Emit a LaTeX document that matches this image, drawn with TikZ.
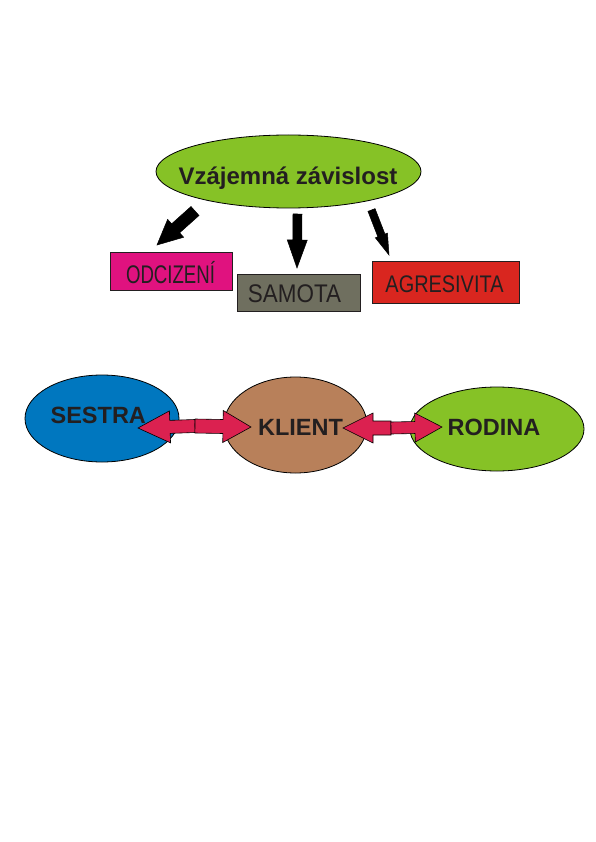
\documentclass[tikz,border=0pt]{standalone}
\usepackage{fontspec}
\setmainfont{Liberation Sans}
\usepackage{graphicx}
\usetikzlibrary{calc}
\definecolor{cgreen}{HTML}{86C226}
\definecolor{cblue}{HTML}{0077BF}
\definecolor{cbrown}{HTML}{B8805A}
\definecolor{cmag}{HTML}{E0127F}
\definecolor{cgray}{HTML}{6F6F5F}
\definecolor{cred}{HTML}{D9261F}
\definecolor{ccrim}{HTML}{DB2150}
\definecolor{ctext}{HTML}{231F20}
\tikzset{
  ell/.style={ellipse, draw=black, line width=0.8pt, inner sep=0pt},
  box/.style={rectangle, draw=ctext, line width=0.8pt, inner sep=0pt},
  boldlab/.style={anchor=base, inner sep=0pt, text=ctext, font=\fontsize{23.5}{23.5}\selectfont\bfseries},
  lab/.style={anchor=base, inner sep=0pt, text=ctext},
  blackarrow/.style={fill=black, draw=black, line width=0.5pt, line join=miter},
  crimarrow/.style={fill=ccrim, draw=black, line width=0.6pt, line join=miter},
}
\usetikzlibrary{shapes.geometric}
% #1 style, #2 tail, #3 tip, #4 shaft half width, #5 head half width, #6 head length
\newcommand\fatarr[6]{%
  \coordinate (hb) at ($(#3)!#6!(#2)$);
  \draw[#1] ($(#2)!#4!90:(#3)$) -- ($(hb)!#4!-90:(#2)$) -- ($(hb)!#5!-90:(#2)$)
    -- (#3) -- ($(hb)!#5!90:(#2)$) -- ($(hb)!#4!90:(#2)$) -- ($(#2)!#4!-90:(#3)$) -- cycle;
}
\begin{document}
\begin{tikzpicture}[x=1pt,y=-1pt]
\useasboundingbox (0,0) rectangle (596,842);
\fill[white] (0,0) rectangle (596,842);

% top ellipse
\node[ell, fill=cgreen, minimum width=265pt, minimum height=73pt] (vz) at (288.5,171.5) {};
\node[lab, font=\fontsize{24}{24}\selectfont\bfseries] (vzt) at (288,185) {Vzájemná závislost};

% boxes
\node[box, fill=cmag, minimum width=122pt, minimum height=38pt] (odc) at (171,271) {};
\node[lab] (odct) at (170.5,283) {\scalebox{0.73}[1]{\fontsize{25.5}{25.5}\selectfont ODCIZENÍ}};
\node[box, fill=cgray, minimum width=123pt, minimum height=37pt] (sam) at (298.5,292.5) {};
\node[lab] (samt) at (294.5,302) {\scalebox{0.88}[1]{\fontsize{25.5}{25.5}\selectfont SAMOTA}};
\node[box, fill=cred, minimum width=147pt, minimum height=42pt] (agr) at (445.5,282) {};
\node[lab] (agrt) at (444.5,292) {\scalebox{0.83}[1]{\fontsize{24}{24}\selectfont AGRESIVITA}};

% top arrows
\coordinate (t1) at (195,211); \coordinate (p1) at (157,245);
\coordinate (t2) at (297.5,214); \coordinate (p2) at (297,268);
\coordinate (t3) at (371.5,210); \coordinate (p3) at (389,255);
\fatarr{blackarrow}{t1}{p1}{6pt}{12pt}{25pt}
\fatarr{blackarrow}{t2}{p2}{4.5pt}{10pt}{28pt}
\fatarr{blackarrow}{t3}{p3}{3.8pt}{6.5pt}{21pt}

% bottom ellipses
\node[ell, fill=cblue, minimum width=154pt, minimum height=87pt] (ses) at (102,418.5) {};
\node[ell, fill=cbrown, minimum width=143pt, minimum height=96pt] (kli) at (295.5,425) {};
\node[ell, fill=cgreen, minimum width=174pt, minimum height=84pt] (rod) at (497,429) {};

% double arrows
\coordinate (m1) at (195,426);
\coordinate (q1) at (138,428);
\coordinate (q2) at (251,427);
\coordinate (m2) at (391,428);
\coordinate (q3) at (343,428);
\coordinate (q4) at (442,427);
\fatarr{crimarrow}{m1}{q1}{6.5pt}{16pt}{32pt}
\fatarr{crimarrow}{m1}{q2}{7pt}{16pt}{28pt}
\fatarr{crimarrow}{m2}{q3}{7pt}{15pt}{30pt}
\fatarr{crimarrow}{m2}{q4}{6pt}{14.5pt}{27pt}

% labels
\node[boldlab] (sest) at (98.3,423) {SESTRA};
\node[boldlab] (klit) at (300.5,435) {KLIENT};
\node[boldlab] (rodt) at (494,435) {RODINA};
\end{tikzpicture}
\end{document}
